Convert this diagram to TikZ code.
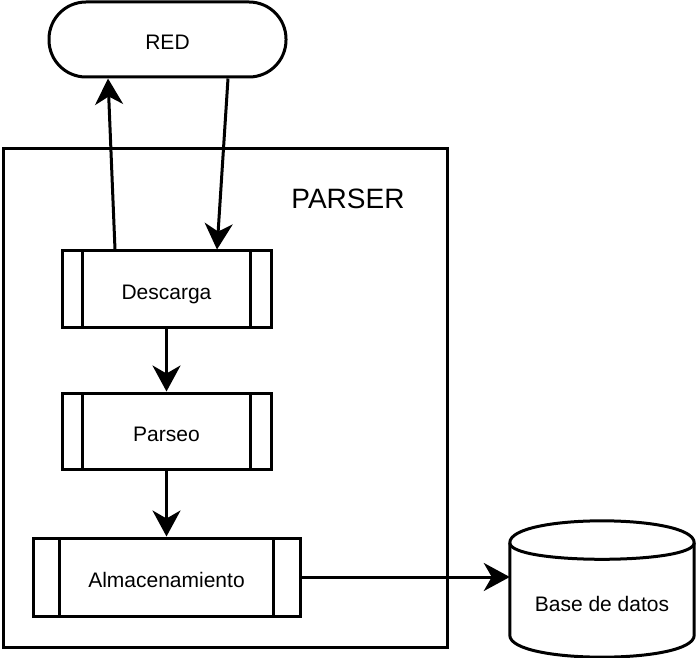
\documentclass[tikz,border=0pt]{standalone}
\usepackage{fontspec}
\setmainfont{Liberation Sans}
\usetikzlibrary{arrows.meta,calc}
\tikzset{
  lw/.style={line width=3pt},
  lbl/.style={font=\fontsize{21}{24}\selectfont, text height=20pt, text depth=0pt},
  procbox/.style={draw, lw, lbl, inner sep=0pt, minimum height=76pt,
    path picture={
      \draw[lw] ($(path picture bounding box.north west)!0.1!(path picture bounding box.north east)$)
        -- ($(path picture bounding box.south west)!0.1!(path picture bounding box.south east)$);
      \draw[lw] ($(path picture bounding box.north east)!0.1!(path picture bounding box.north west)$)
        -- ($(path picture bounding box.south east)!0.1!(path picture bounding box.south west)$);
    }},
  arr/.style={lw, -{Stealth[length=26pt,width=28pt,inset=8pt]}},
}
\begin{document}
\begin{tikzpicture}[x=1pt,y=-1pt]
\useasboundingbox (0,0) rectangle (697,658);
% PARSER container
\node[draw, lw, minimum width=444pt, minimum height=498pt, inner sep=0pt] (parser) at (225,398) {};
\node[font=\fontsize{28}{32}\selectfont] (parsertitle) at (348,199) {PARSER};
% RED
\node[draw, lw, lbl, rounded corners=37pt, minimum width=237pt, minimum height=75pt, inner sep=0pt] (red) at (167.5,39.5) {RED};
% processes
\node[procbox, minimum width=209pt] (desc) at (166.5,289) {Descarga};
\node[procbox, minimum width=209pt] (pars) at (166.5,431) {Parseo};
\node[procbox, minimum width=267pt, minimum height=78pt] (alm) at (166.5,577) {Almacenamiento};
% database cylinder
\node[minimum width=184pt, minimum height=136pt, inner sep=0pt] (db) at (602,589) {};
\draw[lw, line join=round] (db.north west) ++(0,22)
  .. controls ++(0,-29.3) and ++(0,-29.3) .. ($(db.north east)+(0,22)$)
  -- ($(db.south east)+(0,-22)$)
  .. controls ++(0,29.3) and ++(0,29.3) .. ($(db.south west)+(0,-22)$)
  -- cycle;
\draw[lw] ($(db.north west)+(0,22)$)
  .. controls ++(0,22) and ++(0,22) .. ($(db.north east)+(0,22)$);
\node[lbl, inner sep=0pt] (dblabel) at (602,601) {Base de datos};
% connectors
\draw[arr] ($(desc.north)+(-51.5,0)$) -- ($(red.south)+(-59.5,0)$);
\draw[arr] ($(red.south)+(60.5,0)$) -- ($(desc.north)+(50.5,0)$);
\draw[arr] (desc.south) -- (pars.north);
\draw[arr] (pars.south) -- (alm.north);
\draw[arr] (alm.east) -- (alm.east -| db.west);
\end{tikzpicture}
\end{document}
